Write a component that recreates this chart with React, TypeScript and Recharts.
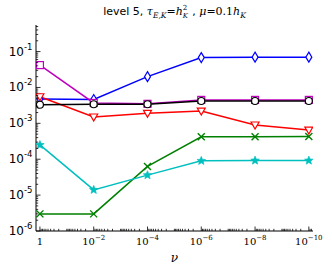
import React from 'react';
import { LineChart, Line, XAxis, YAxis } from 'recharts';

const nuValues = [1, 1e-2, 1e-4, 1e-6, 1e-8, 1e-10];

const blueSeries = [4.8e-3, 4.6e-3, 0.02, 0.068, 0.07, 0.07];
const magentaSeries = [0.042, 3.7e-3, 3.5e-3, 4.5e-3, 4.5e-3, 4.5e-3];
const blackSeries = [3.3e-3, 3.4e-3, 3.4e-3, 4.2e-3, 4.2e-3, 4.2e-3];
const redSeries = [5.5e-3, 1.5e-3, 1.9e-3, 2.2e-3, 9e-4, 6.5e-4];
const greenSeries = [3e-6, 3e-6, 6.3e-5, 4.2e-4, 4.2e-4, 4.3e-4];
const cyanSeries = [2.5e-4, 1.4e-5, 3.6e-5, 9e-5, 9.2e-5, 9.2e-5];

const xTicks = [1, 1e-2, 1e-4, 1e-6, 1e-8, 1e-10];
const yTicks = [1e-6, 1e-5, 1e-4, 1e-3, 1e-2, 1e-1];

const xDomain: [number, number] = [7e-11, 1.4];
const yDomain: [number, number] = [1e-6, 0.55];

const data = nuValues.map((nu, i) => ({
  nu,
  blue: blueSeries[i],
  magenta: magentaSeries[i],
  black: blackSeries[i],
  red: redSeries[i],
  green: greenSeries[i],
  cyan: cyanSeries[i],
}));

// log minor ticks (2..9 per decade, plus the unlabeled decades) inside a domain
const minorTicks = (lo: number, hi: number) => {
  const out: number[] = [];
  for (let e = Math.floor(Math.log10(lo)); e <= Math.ceil(Math.log10(hi)); e++) {
    for (let m = 1; m <= 9; m++) {
      const v = m * Math.pow(10, e);
      if (v >= lo && v <= hi) out.push(v);
    }
  }
  return out;
};

const allXTicks = minorTicks(xDomain[0], xDomain[1]);
const allYTicks = minorTicks(yDomain[0], yDomain[1]);

const isMajor = (v: number, majors: number[]) =>
  majors.some((t) => Math.abs(Math.log10(t) - Math.log10(v)) < 1e-6);

const MAJOR = 4.5;
const MINOR = 2.2;

const BottomTick = (props: any) => {
  const { x, y, payload } = props;
  const v = payload.value;
  const major = isMajor(v, xTicks);
  const exp = Math.round(Math.log10(v));
  return (
    <g>
      <line x1={x} x2={x} y1={y} y2={y - (major ? MAJOR : MINOR)} stroke="#000" strokeWidth={0.8} />
      {major && (
        <text x={x} y={y + 14} textAnchor="middle" fontFamily="DejaVu Serif" fontSize={10} fill="#000">
          {exp === 0 ? '1' : '10'}
          {exp !== 0 && (
            <tspan dy={-5} fontSize={7}>
              {'\u2212' + -exp}
            </tspan>
          )}
        </text>
      )}
    </g>
  );
};

const TopTick = (props: any) => {
  const { x, y, payload } = props;
  const major = isMajor(payload.value, xTicks);
  return <line x1={x} x2={x} y1={y} y2={y + (major ? MAJOR : MINOR)} stroke="#000" strokeWidth={0.8} />;
};

const LeftTick = (props: any) => {
  const { x, y, payload } = props;
  const v = payload.value;
  const major = isMajor(v, yTicks);
  const exp = Math.round(Math.log10(v));
  return (
    <g>
      <line x1={x} x2={x + (major ? MAJOR : MINOR)} y1={y} y2={y} stroke="#000" strokeWidth={0.8} />
      {major && (
        <text x={x - 12} y={y + 4} textAnchor="end" fontFamily="DejaVu Sans" fontSize={12} fill="#000">
          10
        </text>
      )}
      {major && (
        <text x={x - 12} y={y - 2} textAnchor="start" fontFamily="DejaVu Sans" fontSize={8.5} fill="#000">
          {'-' + -exp}
        </text>
      )}
    </g>
  );
};

const RightTick = (props: any) => {
  const { x, y, payload } = props;
  const major = isMajor(payload.value, yTicks);
  return <line x1={x} x2={x - (major ? MAJOR : MINOR)} y1={y} y2={y} stroke="#000" strokeWidth={0.8} />;
};

const starPoints = (cx: number, cy: number, ro: number, ri: number) => {
  const pts: string[] = [];
  for (let k = 0; k < 10; k++) {
    const r = k % 2 === 0 ? ro : ri;
    const a = -Math.PI / 2 + (k * Math.PI) / 5;
    pts.push(`${cx + r * Math.cos(a)},${cy + r * Math.sin(a)}`);
  }
  return pts.join(' ');
};

const makeDot = (kind: string, color: string) => (p: any) => {
  const { cx, cy, index } = p;
  const key = `${kind}-${index}`;
  if (cx == null || cy == null) return <g key={key} />;
  switch (kind) {
    case 'diamond':
      return (
        <polygon key={key} points={`${cx},${cy - 5} ${cx + 3},${cy} ${cx},${cy + 5} ${cx - 3},${cy}`}
          fill="#fff" stroke={color} strokeWidth={1.2} />
      );
    case 'square':
      return <rect key={key} x={cx - 3.5} y={cy - 3.5} width={7} height={7} fill="#fff" stroke={color} strokeWidth={1.2} />;
    case 'circle':
      return <circle key={key} cx={cx} cy={cy} r={3.5} fill="#fff" stroke={color} strokeWidth={1.2} />;
    case 'tri':
      return (
        <polygon key={key} points={`${cx - 4},${cy - 3} ${cx + 4},${cy - 3} ${cx},${cy + 4}`}
          fill="#fff" stroke={color} strokeWidth={1.2} />
      );
    case 'x':
      return (
        <g key={key} stroke={color} strokeWidth={1.4}>
          <line x1={cx - 3.5} y1={cy - 3.5} x2={cx + 3.5} y2={cy + 3.5} />
          <line x1={cx - 3.5} y1={cy + 3.5} x2={cx + 3.5} y2={cy - 3.5} />
        </g>
      );
    default:
      return <polygon key={key} points={starPoints(cx, cy, 4.5, 2)} fill={color} stroke={color} strokeWidth={0.6} />;
  }
};

const series = [
  { key: 'blue', color: '#0000ff', marker: 'diamond' },
  { key: 'red', color: '#ff0000', marker: 'tri' },
  { key: 'magenta', color: '#bf00bf', marker: 'square' },
  { key: 'black', color: '#000000', marker: 'circle' },
  { key: 'green', color: '#008000', marker: 'x' },
  { key: 'cyan', color: '#00bfbf', marker: 'star' },
];

const sub: React.CSSProperties = { fontSize: 7.5, verticalAlign: '-3px', lineHeight: 0 };
const scr: React.CSSProperties = { position: 'absolute', left: 0, fontSize: 7, lineHeight: '7px' };

export default function App() {
  return (
    <div style={{ position: 'relative', width: 332, height: 277, background: '#fff' }}>
      <style>{'body{margin:0}'}</style>
      <div
        style={{
          position: 'absolute', left: 36, width: 277, top: 5, textAlign: 'center',
          fontFamily: 'DejaVu Sans', fontSize: 11, lineHeight: '14px', whiteSpace: 'nowrap',
        }}
      >
        level 5,{' '}
        <span style={{ fontFamily: 'DejaVu Serif', fontStyle: 'italic' }}>
          τ<span style={sub}>E,K</span>
          <span style={{ fontStyle: 'normal' }}>=</span>h
          <span style={{ position: 'relative', display: 'inline-block', width: 6 }}>
            <span style={{ ...scr, top: -10, fontStyle: 'normal' }}>2</span>
            <span style={{ ...scr, top: -2 }}>K</span>
          </span>
          <span style={{ fontStyle: 'normal', fontFamily: 'DejaVu Sans' }}> , </span>
          μ<span style={{ fontStyle: 'normal' }}>=0.1</span>h<span style={sub}>K</span>
        </span>
      </div>
      <LineChart width={332} height={277} data={data} margin={{ top: 25, right: 19, left: 0, bottom: 0 }}>
        <XAxis
          dataKey="nu" type="number" scale="log" domain={xDomain} reversed allowDataOverflow
          ticks={allXTicks} interval={0} tickSize={0} tickMargin={0} tickLine={false}
          tick={<BottomTick />} height={46} stroke="#000"
          label={{ value: 'ν', position: 'insideBottom', offset: 15, fontFamily: 'DejaVu Serif', fontStyle: 'italic', fontSize: 12, fill: '#000' }}
        />
        <XAxis
          xAxisId="top" orientation="top" dataKey="nu" type="number" scale="log" domain={xDomain} reversed allowDataOverflow
          ticks={allXTicks} interval={0} tickSize={0} tickMargin={0} tickLine={false}
          tick={<TopTick />} height={0} stroke="#000"
        />
        <YAxis
          type="number" scale="log" domain={yDomain} allowDataOverflow
          ticks={allYTicks} interval={0} tickSize={0} tickMargin={0} tickLine={false}
          tick={<LeftTick />} width={36} stroke="#000"
        />
        <YAxis
          yAxisId="right" orientation="right" type="number" scale="log" domain={yDomain} allowDataOverflow
          ticks={allYTicks} interval={0} tickSize={0} tickMargin={0} tickLine={false}
          tick={<RightTick />} width={0} stroke="#000"
        />
        {series.map((s) => (
          <Line
            key={s.key} dataKey={s.key} stroke={s.color} strokeWidth={1.5}
            dot={makeDot(s.marker, s.color)} activeDot={false} isAnimationActive={false}
          />
        ))}
      </LineChart>
    </div>
  );
}
